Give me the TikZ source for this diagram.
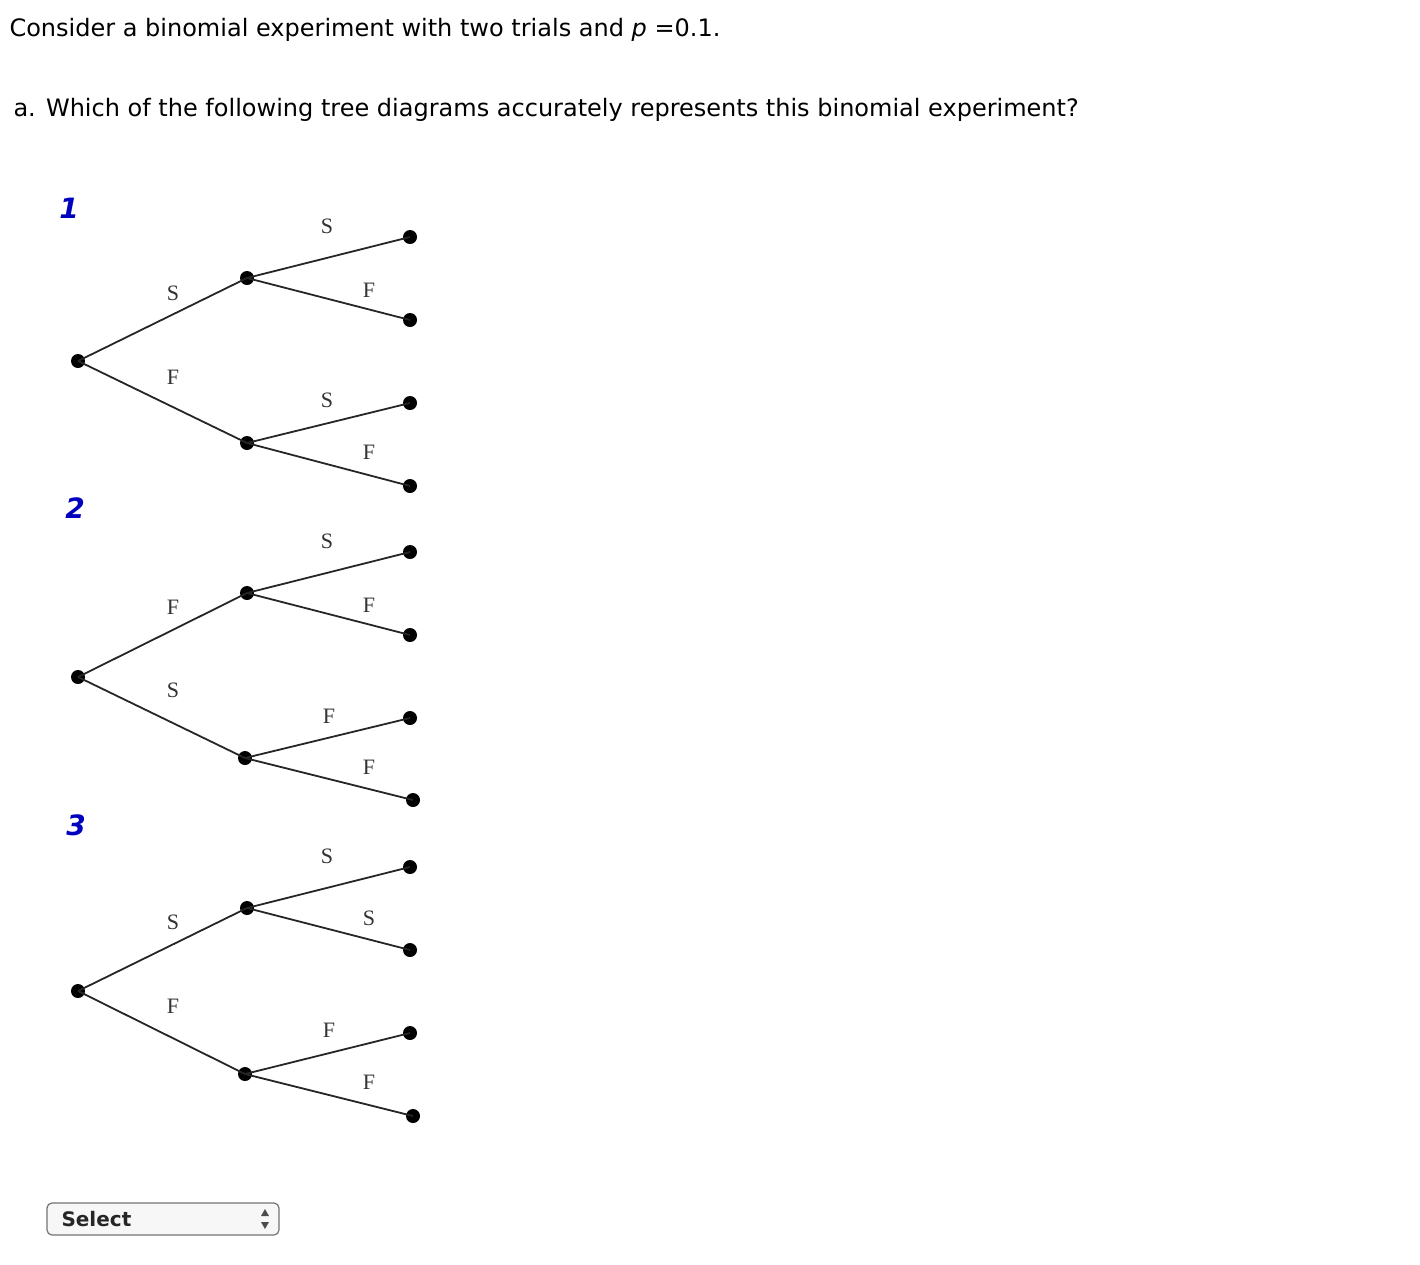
\documentclass[tikz,border=0pt]{standalone}
\usepackage{fontspec}
\setmainfont{DejaVu Sans}
\newfontfamily\lserif{Liberation Serif}
\begin{document}
\begin{tikzpicture}[x=1pt,y=-1pt,
  dot/.style={circle,fill=black,inner sep=0pt,minimum size=14pt},
  br/.style={line width=1.8pt,draw=black!85},
  lab/.style={font=\lserif\fontsize{22}{22}\selectfont,text=black!80},
  num/.style={font=\bfseries\itshape\fontsize{28}{28}\selectfont,text=blue!75!black}]
\useasboundingbox (0,0) rectangle (1420,1264);
\node[anchor=west,font=\fontsize{24}{24}\selectfont] (t1) at (6,30) {Consider a binomial experiment with two trials and \textit{p} =0.1.};
\node[anchor=west,font=\fontsize{24}{24}\selectfont] (t2) at (10,110) {a. Which of the following tree diagrams accurately represents this binomial experiment?};
% tree 1
\node[num] (n1) at (69,208) {1};
\node[dot] (r1) at (78,361) {};
\node[dot] (a1) at (247,278) {};
\node[dot] (b1) at (247,443) {};
\node[dot] (l11) at (410,237) {}; \node[dot] (l12) at (410,320) {};
\node[dot] (l13) at (410,403) {}; \node[dot] (l14) at (410,486) {};
\draw[br] (r1.center)--(a1.center); \draw[br] (r1.center)--(b1.center);
\draw[br] (a1.center)--(l11.center); \draw[br] (a1.center)--(l12.center);
\draw[br] (b1.center)--(l13.center); \draw[br] (b1.center)--(l14.center);
\node[lab] (s11) at (327,226) {S}; \node[lab] (s12) at (369,290) {F};
\node[lab] (s13) at (173,293) {S}; \node[lab] (s14) at (173,377) {F};
\node[lab] (s15) at (327,400) {S}; \node[lab] (s16) at (369,452) {F};
% tree 2
\node[num] (n2) at (75,508) {2};
\node[dot] (r2) at (78,677) {};
\node[dot] (a2) at (247,593) {};
\node[dot] (b2) at (245,758) {};
\node[dot] (l21) at (410,552) {}; \node[dot] (l22) at (410,635) {};
\node[dot] (l23) at (410,718) {}; \node[dot] (l24) at (413,800) {};
\draw[br] (r2.center)--(a2.center); \draw[br] (r2.center)--(b2.center);
\draw[br] (a2.center)--(l21.center); \draw[br] (a2.center)--(l22.center);
\draw[br] (b2.center)--(l23.center); \draw[br] (b2.center)--(l24.center);
\node[lab] (s21) at (327,541) {S}; \node[lab] (s22) at (369,605) {F};
\node[lab] (s23) at (173,607) {F}; \node[lab] (s24) at (173,690) {S};
\node[lab] (s25) at (329,716) {F}; \node[lab] (s26) at (369,767) {F};
% tree 3
\node[num] (n3) at (76,825) {3};
\node[dot] (r3) at (78,991) {};
\node[dot] (a3) at (247,908) {};
\node[dot] (b3) at (245,1074) {};
\node[dot] (l31) at (410,867) {}; \node[dot] (l32) at (410,950) {};
\node[dot] (l33) at (410,1033) {}; \node[dot] (l34) at (413,1116) {};
\draw[br] (r3.center)--(a3.center); \draw[br] (r3.center)--(b3.center);
\draw[br] (a3.center)--(l31.center); \draw[br] (a3.center)--(l32.center);
\draw[br] (b3.center)--(l33.center); \draw[br] (b3.center)--(l34.center);
\node[lab] (s31) at (327,856) {S}; \node[lab] (s32) at (369,918) {S};
\node[lab] (s33) at (173,922) {S}; \node[lab] (s34) at (173,1006) {F};
\node[lab] (s35) at (329,1030) {F}; \node[lab] (s36) at (369,1082) {F};
% select box
\node[draw=black!55,line width=1.2pt,rounded corners=5pt,minimum width=232pt,minimum height=32pt,fill=black!3] (sel) at (163,1219) {};
\node[anchor=west,font=\bfseries\fontsize{20}{20}\selectfont,text=black!85] (seltxt) at (58,1219) {Select};
\fill[black!70] (261,1216) -- (269,1216) -- (265,1209) -- cycle;
\fill[black!70] (261,1222) -- (269,1222) -- (265,1229) -- cycle;
\end{tikzpicture}
\end{document}
